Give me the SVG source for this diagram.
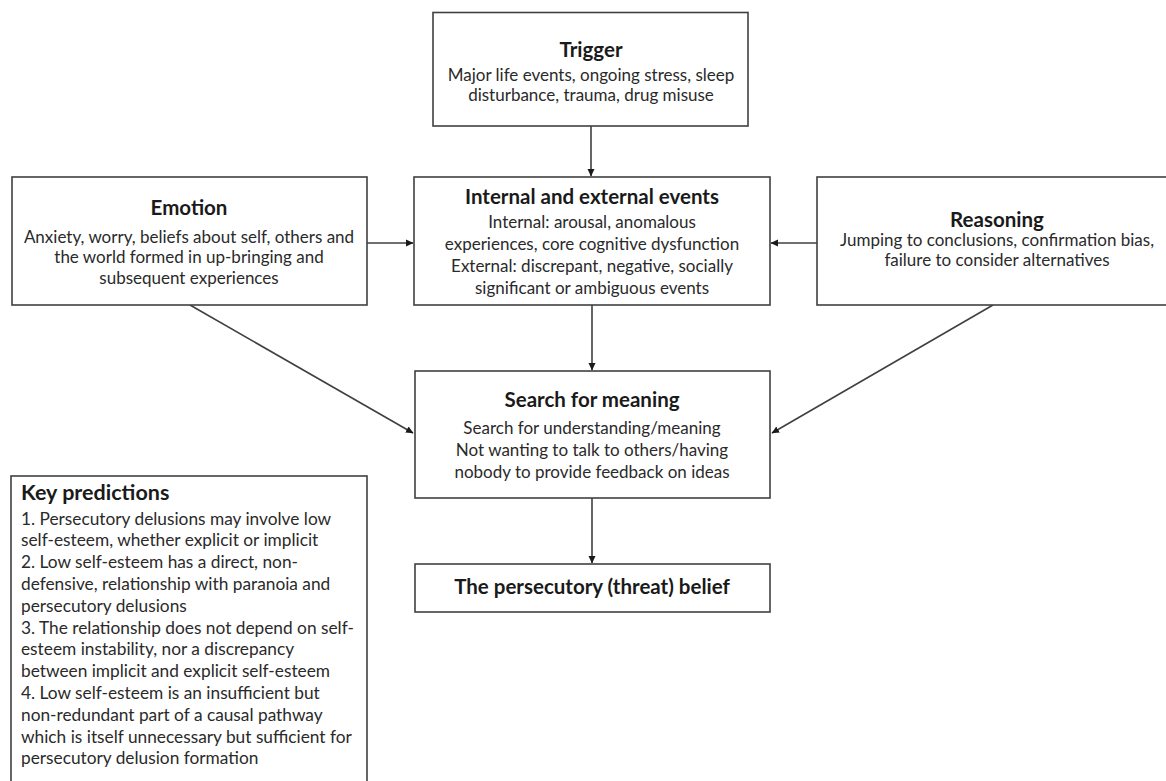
<svg xmlns="http://www.w3.org/2000/svg" width="1166" height="781" viewBox="0 0 1166 781">
<style>
.box{fill:#fff;stroke:#404040;stroke-width:1.6}
.t{font-family:Lato,"Liberation Sans",sans-serif;font-size:20.5px;font-weight:bold;fill:#1a1a1a;text-anchor:middle}
.b{font-family:Lato,"Liberation Sans",sans-serif;font-size:17px;fill:#2a2a2a;text-anchor:middle}
.k{font-family:Lato,"Liberation Sans",sans-serif;font-size:17.3px;fill:#2a2a2a}
.kt{font-family:Lato,"Liberation Sans",sans-serif;font-size:21.5px;font-weight:bold;fill:#1a1a1a}
.c{stroke:#404040;stroke-width:1.6;fill:none;marker-end:url(#ah)}
</style>
<defs>
<marker id="ah" markerWidth="8" markerHeight="8" refX="7" refY="4" orient="auto" markerUnits="userSpaceOnUse">
<path d="M0,0.5 L7.5,4 L0,7.5 Z" fill="#1a1a1a"/>
</marker>
</defs>
<rect width="1166" height="781" fill="#fff"/>
<g id="connectors">
<line class="c" x1="591" y1="126" x2="591" y2="176"/>
<line class="c" x1="367" y1="243" x2="413" y2="243"/>
<line class="c" x1="817" y1="243" x2="771" y2="243"/>
<line class="c" x1="592" y1="305" x2="592" y2="370"/>
<line class="c" x1="190" y1="305" x2="413" y2="433"/>
<line class="c" x1="993" y1="305" x2="772" y2="433"/>
<line class="c" x1="592" y1="498" x2="592" y2="563"/>
</g>
<g id="trigger">
<rect class="box" x="433" y="12.5" width="315" height="113.5"/>
<text class="t" x="591" y="57">Trigger</text>
<text class="b" x="591" y="81">Major life events, ongoing stress, sleep</text>
<text class="b" x="591" y="101">disturbance, trauma, drug misuse</text>
</g>
<g id="emotion">
<rect class="box" x="12" y="177" width="355" height="128"/>
<text class="t" x="189" y="215">Emotion</text>
<text class="b" x="189" y="243">Anxiety, worry, beliefs about self, others and</text>
<text class="b" x="189" y="263">the world formed in up-bringing and</text>
<text class="b" x="189" y="284">subsequent experiences</text>
</g>
<g id="internal">
<rect class="box" x="414" y="177" width="356" height="128"/>
<text class="t" x="592" y="204">Internal and external events</text>
<text class="b" x="592" y="228">Internal: arousal, anomalous</text>
<text class="b" x="592" y="250">experiences, core cognitive dysfunction</text>
<text class="b" x="592" y="272">External: discrepant, negative, socially</text>
<text class="b" x="592" y="294">significant or ambiguous events</text>
</g>
<g id="reasoning">
<rect class="box" x="817" y="177" width="360" height="128"/>
<text class="t" x="997" y="227">Reasoning</text>
<text class="b" x="997" y="246">Jumping to conclusions, confirmation bias,</text>
<text class="b" x="997" y="266">failure to consider alternatives</text>
</g>
<g id="search">
<rect class="box" x="415" y="371" width="355" height="127"/>
<text class="t" x="592" y="407">Search for meaning</text>
<text class="b" x="592" y="434">Search for understanding/meaning</text>
<text class="b" x="592" y="456">Not wanting to talk to others/having</text>
<text class="b" x="592" y="478">nobody to provide feedback on ideas</text>
</g>
<g id="belief">
<rect class="box" x="415" y="564" width="355" height="48"/>
<text class="t" x="592" y="594">The persecutory (threat) belief</text>
</g>
<g id="key-predictions">
<rect class="box" x="11" y="476" width="356" height="312"/>
<text class="kt" x="21" y="500">Key predictions</text>
<text class="k" x="21" y="524.5">1. Persecutory delusions may involve low</text>
<text class="k" x="21" y="546.3">self-esteem, whether explicit or implicit</text>
<text class="k" x="21" y="568.1">2. Low self-esteem has a direct, non-</text>
<text class="k" x="21" y="589.9">defensive, relationship with paranoia and</text>
<text class="k" x="21" y="611.7">persecutory delusions</text>
<text class="k" x="21" y="633.5">3. The relationship does not depend on self-</text>
<text class="k" x="21" y="655.3">esteem instability, nor a discrepancy</text>
<text class="k" x="21" y="677.1">between implicit and explicit self-esteem</text>
<text class="k" x="21" y="698.9">4. Low self-esteem is an insufficient but</text>
<text class="k" x="21" y="720.7">non-redundant part of a causal pathway</text>
<text class="k" x="21" y="742.5">which is itself unnecessary but sufficient for</text>
<text class="k" x="21" y="764.3">persecutory delusion formation</text>
</g>
</svg>
